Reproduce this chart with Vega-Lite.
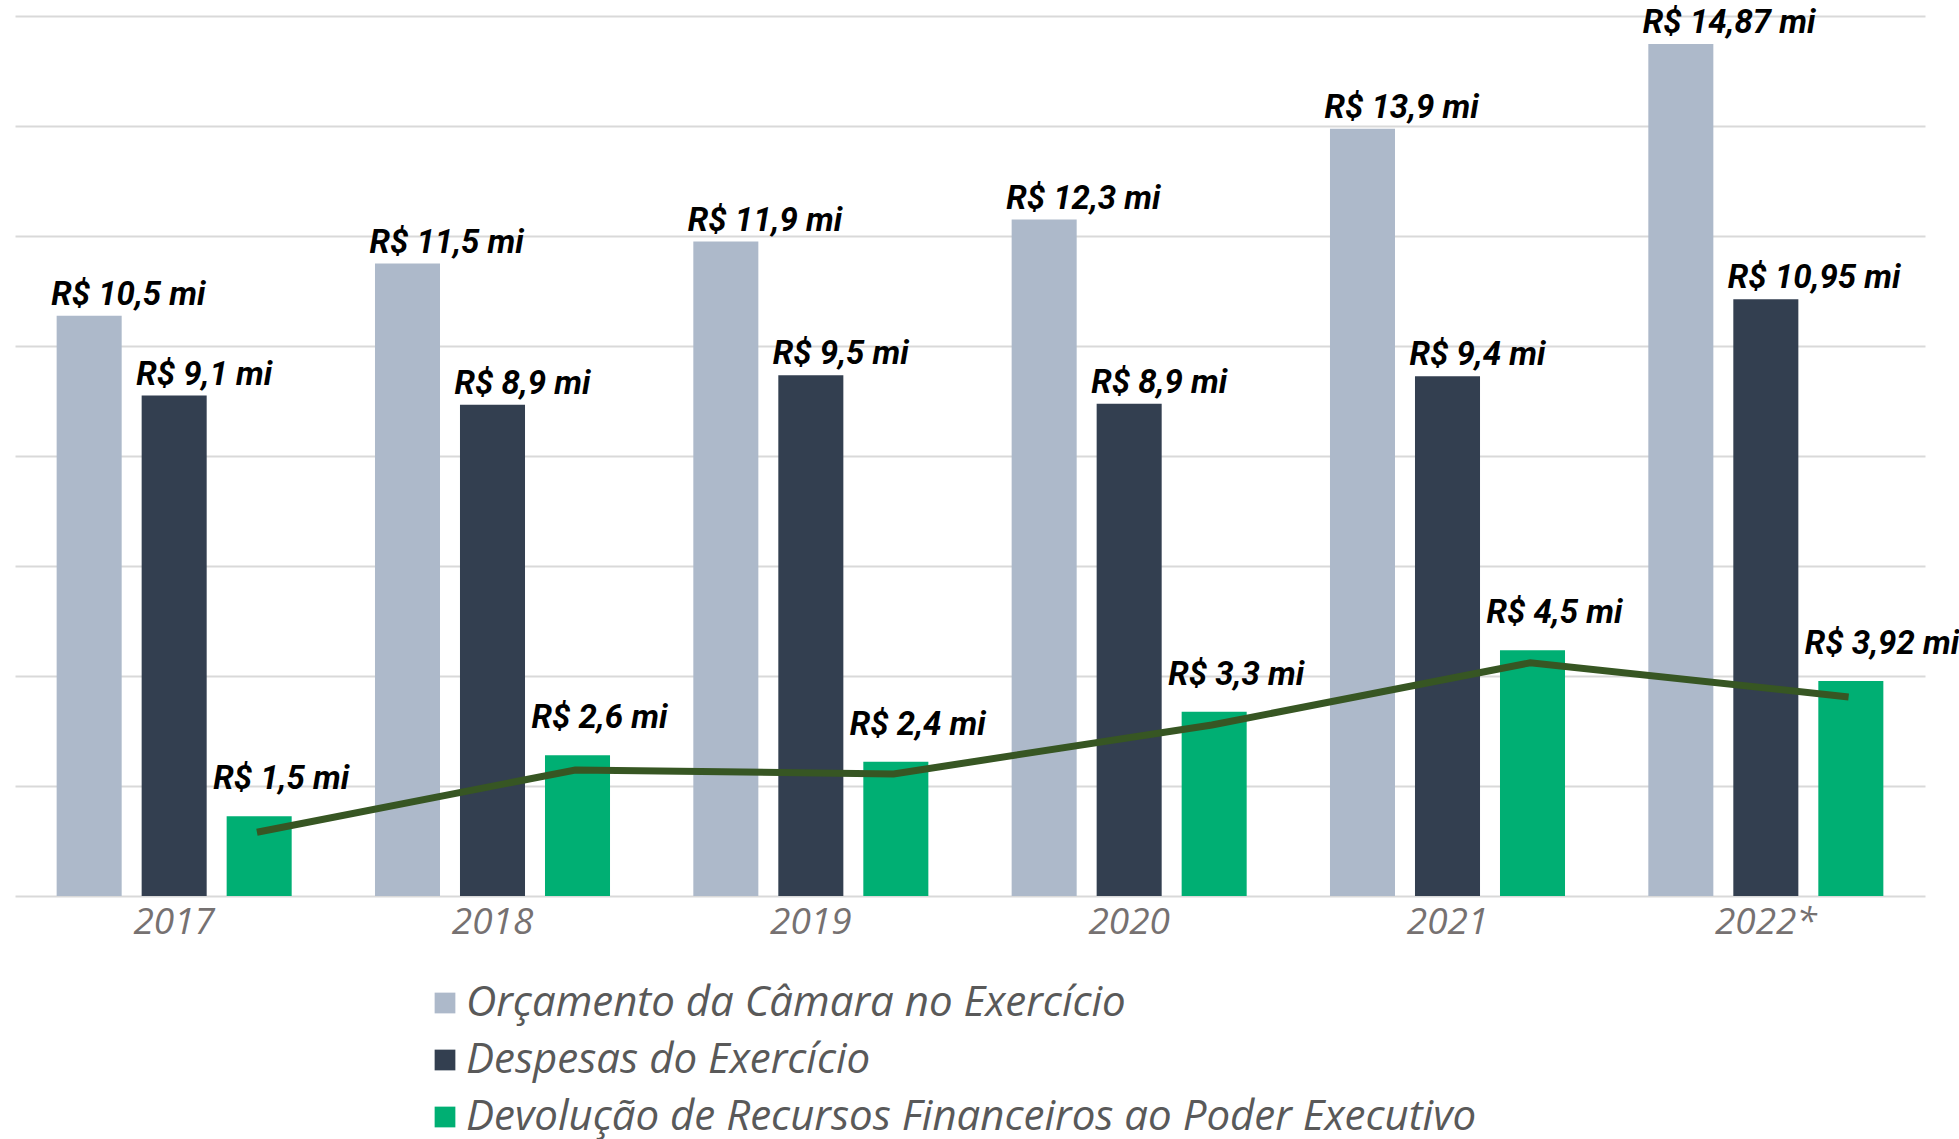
{
  "$schema": "https://vega.github.io/schema/vega-lite/v6.json",
  "width": 1896,
  "height": 880,
  "autosize": {"type": "none"},
  "padding": {"left": 15, "top": 16, "right": 48, "bottom": 243},
  "background": "white",
  "datasets": {
    "bars": [
      {"year": "2017", "serie": "Orçamento da Câmara no Exercício", "valor": 10.55, "rotulo": "R$ 10,5 mi"},
      {"year": "2017", "serie": "Despesas do Exercício", "valor": 9.1, "rotulo": "R$ 9,1 mi"},
      {"year": "2017", "serie": "Devolução de Recursos Financeiros ao Poder Executivo", "valor": 1.45, "rotulo": "R$ 1,5 mi"},
      {"year": "2018", "serie": "Orçamento da Câmara no Exercício", "valor": 11.5, "rotulo": "R$ 11,5 mi"},
      {"year": "2018", "serie": "Despesas do Exercício", "valor": 8.93, "rotulo": "R$ 8,9 mi"},
      {"year": "2018", "serie": "Devolução de Recursos Financeiros ao Poder Executivo", "valor": 2.56, "rotulo": "R$ 2,6 mi"},
      {"year": "2019", "serie": "Orçamento da Câmara no Exercício", "valor": 11.9, "rotulo": "R$ 11,9 mi"},
      {"year": "2019", "serie": "Despesas do Exercício", "valor": 9.47, "rotulo": "R$ 9,5 mi"},
      {"year": "2019", "serie": "Devolução de Recursos Financeiros ao Poder Executivo", "valor": 2.44, "rotulo": "R$ 2,4 mi"},
      {"year": "2020", "serie": "Orçamento da Câmara no Exercício", "valor": 12.3, "rotulo": "R$ 12,3 mi"},
      {"year": "2020", "serie": "Despesas do Exercício", "valor": 8.95, "rotulo": "R$ 8,9 mi"},
      {"year": "2020", "serie": "Devolução de Recursos Financeiros ao Poder Executivo", "valor": 3.35, "rotulo": "R$ 3,3 mi"},
      {"year": "2021", "serie": "Orçamento da Câmara no Exercício", "valor": 13.95, "rotulo": "R$ 13,9 mi"},
      {"year": "2021", "serie": "Despesas do Exercício", "valor": 9.45, "rotulo": "R$ 9,4 mi"},
      {"year": "2021", "serie": "Devolução de Recursos Financeiros ao Poder Executivo", "valor": 4.47, "rotulo": "R$ 4,5 mi"},
      {"year": "2022*", "serie": "Orçamento da Câmara no Exercício", "valor": 15.49, "rotulo": "R$ 14,87 mi"},
      {"year": "2022*", "serie": "Despesas do Exercício", "valor": 10.85, "rotulo": "R$ 10,95 mi"},
      {"year": "2022*", "serie": "Devolução de Recursos Financeiros ao Poder Executivo", "valor": 3.91, "rotulo": "R$ 3,92 mi"}
    ],
    "linha": [
      {"year": "2017", "valor": 1.16},
      {"year": "2018", "valor": 2.29},
      {"year": "2019", "valor": 2.22},
      {"year": "2020", "valor": 3.11},
      {"year": "2021", "valor": 4.24},
      {"year": "2022*", "valor": 3.62}
    ]
  },
  "layer": [
    {
      "data": {"name": "bars"},
      "mark": {"type": "bar"},
      "encoding": {
        "x": {
          "field": "year", "type": "nominal", "sort": null,
          "scale": {"paddingInner": 0, "paddingOuter": 0, "range": [0, 1910]},
          "axis": {"title": null, "domain": false, "ticks": false, "labelPadding": 8, "labelBaseline": "top",
                   "labelFont": "Open Sans", "labelFontStyle": "italic", "labelFontWeight": 400, "labelFontSize": 37,
                   "labelColor": "#767171", "labelAngle": 0, "grid": false}
        },
        "xOffset": {
          "field": "serie", "type": "nominal", "sort": null,
          "scale": {"paddingInner": 0.235, "paddingOuter": 0.49}
        },
        "y": {
          "field": "valor", "type": "quantitative",
          "scale": {"domain": [0, 16], "nice": false, "zero": true},
          "axis": {"title": null, "labels": false, "ticks": false, "domain": false,
                   "values": [0, 2, 4, 6, 8, 10, 12, 14, 16], "grid": true, "gridColor": "#D9D9D9", "gridWidth": 2}
        },
        "color": {
          "field": "serie", "type": "nominal", "sort": null,
          "scale": {
            "domain": ["Orçamento da Câmara no Exercício", "Despesas do Exercício", "Devolução de Recursos Financeiros ao Poder Executivo"],
            "range": ["#ADB9CA", "#333F50", "#00AF73"]
          },
          "legend": {
            "title": null, "orient": "none", "legendX": 409, "legendY": 966, "direction": "vertical",
            "symbolType": "square", "symbolSize": 430, "symbolStrokeWidth": 0, "symbolOpacity": 1,
            "labelFont": "Open Sans", "labelFontStyle": "italic", "labelFontWeight": 400, "labelFontSize": 42,
            "labelColor": "#595959", "labelOffset": 0, "rowPadding": 15, "padding": 0, "labelLimit": 1500
          }
        }
      }
    },
    {
      "data": {"name": "linha"},
      "mark": {"type": "line", "color": "#375623", "strokeWidth": 7, "strokeCap": "butt", "strokeJoin": "miter"},
      "encoding": {
        "x": {"field": "year", "type": "nominal", "sort": null, "bandPosition": 0.76},
        "y": {"field": "valor", "type": "quantitative"}
      }
    },
    {
      "data": {"name": "bars"},
      "transform": [{"filter": "datum.serie !== 'Devolução de Recursos Financeiros ao Poder Executivo'"}],
      "mark": {"type": "text", "align": "left", "baseline": "alphabetic", "dx": -38, "dy": -11,
               "font": "Roboto", "fontStyle": "italic", "fontWeight": "bold", "fontSize": 33, "color": "#000000"},
      "encoding": {
        "x": {"field": "year", "type": "nominal", "sort": null},
        "xOffset": {"field": "serie", "type": "nominal", "sort": null},
        "y": {"field": "valor", "type": "quantitative"},
        "text": {"field": "rotulo"}
      }
    },
    {
      "data": {"name": "bars"},
      "transform": [{"filter": "datum.serie === 'Devolução de Recursos Financeiros ao Poder Executivo'"}],
      "mark": {"type": "text", "align": "left", "baseline": "alphabetic", "dx": -46, "dy": -27,
               "font": "Roboto", "fontStyle": "italic", "fontWeight": "bold", "fontSize": 33, "color": "#000000"},
      "encoding": {
        "x": {"field": "year", "type": "nominal", "sort": null},
        "xOffset": {"field": "serie", "type": "nominal", "sort": null},
        "y": {"field": "valor", "type": "quantitative"},
        "text": {"field": "rotulo"}
      }
    }
  ],
  "config": {"view": {"stroke": null}}
}
